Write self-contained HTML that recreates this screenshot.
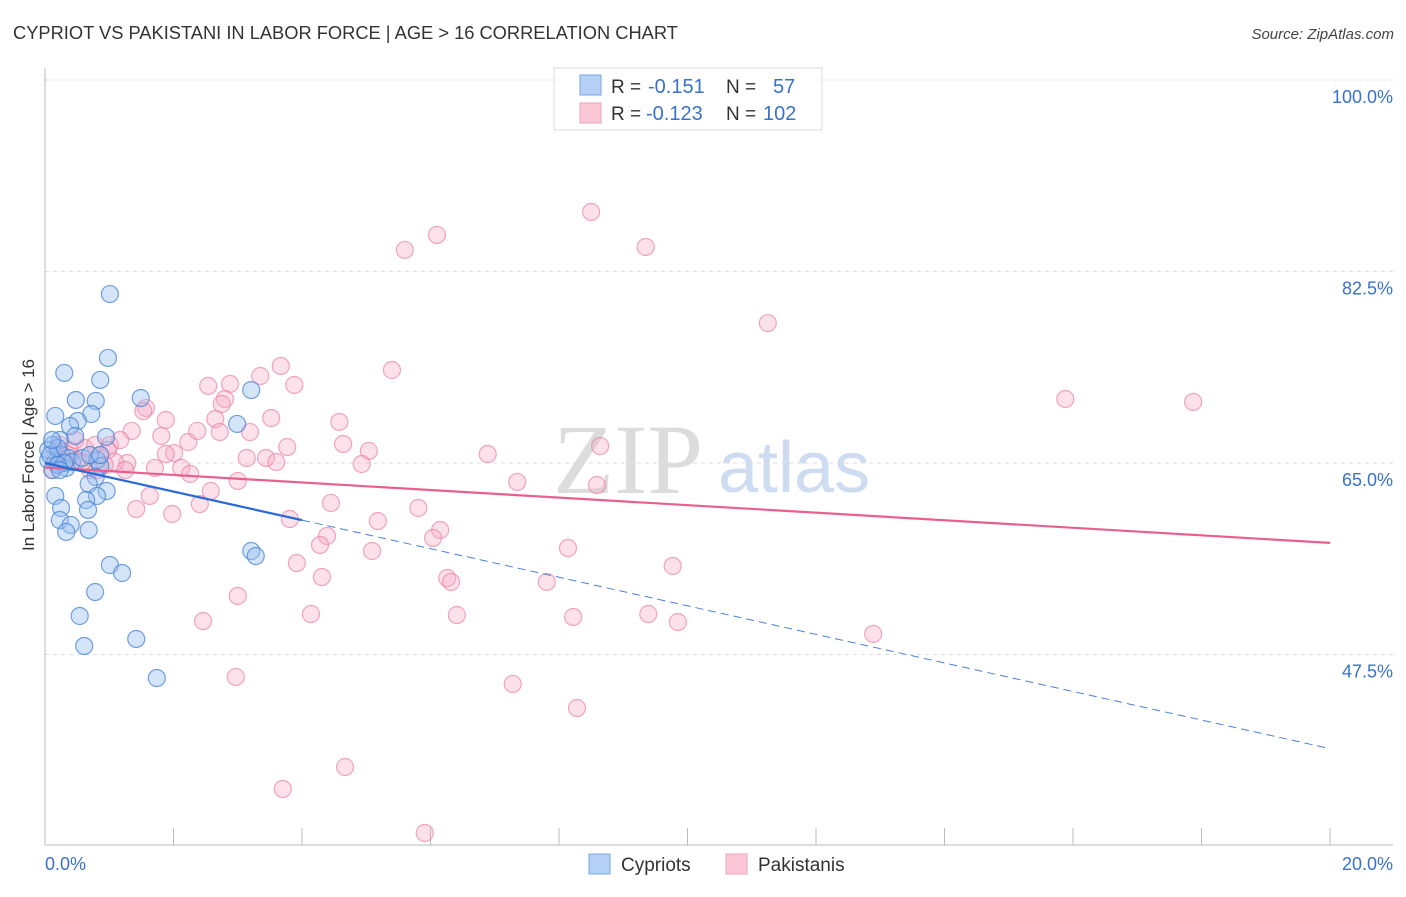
<!DOCTYPE html>
<html><head><meta charset="utf-8"><style>
body{margin:0;background:#fff;font-family:"Liberation Sans",sans-serif;}
svg text{font-family:"Liberation Sans",sans-serif;}
</style></head><body>
<svg id="chart" width="1406" height="892" viewBox="0 0 1406 892" xmlns="http://www.w3.org/2000/svg">
<text x="13" y="39" font-size="18.3" fill="#333">CYPRIOT VS PAKISTANI IN LABOR FORCE | AGE &gt; 16 CORRELATION CHART</text>
<text x="1394" y="39" font-size="15" fill="#444" font-style="italic" text-anchor="end">Source: ZipAtlas.com</text>
<g>
<text x="553" y="493" font-size="100" fill="#dcdcdc" style="font-family:'Liberation Serif',serif">ZIP</text>
<text x="718" y="492" font-size="72" fill="#cddcf0">atlas</text>
</g>
<g id="grid"></g>
<g id="axes"></g>
<g id="pts"></g>
<g id="trends"></g>
<text transform="translate(34,455) rotate(-90)" font-size="17" fill="#333" text-anchor="middle">In Labor Force | Age &gt; 16</text>
<g>
<rect x="554" y="68" width="268" height="62" fill="#fff" stroke="#ddd"/>
<rect x="580" y="75" width="21" height="20" fill="#b5d0f5" stroke="#7aa6e0"/>
<rect x="580" y="103" width="21" height="20" fill="#fcc8d8" stroke="#eea0b8"/>
<text x="611" y="93" font-size="19" fill="#333">R =</text><text x="648" y="93" font-size="20" fill="#3a72c8">-0.151</text>
<text x="726" y="93" font-size="19" fill="#333">N =</text><text x="773" y="93" font-size="20" fill="#3a72c8">57</text>
<text x="611" y="120" font-size="19" fill="#333">R =</text><text x="646" y="120" font-size="20" fill="#3a72c8">-0.123</text>
<text x="726" y="120" font-size="19" fill="#333">N =</text><text x="763" y="120" font-size="20" fill="#3a72c8">102</text>
</g>
<g>
<rect x="589" y="854" width="21" height="20" fill="#b5d0f5" stroke="#7aa6e0"/>
<text x="621" y="871" font-size="19" fill="#333">Cypriots</text>
<rect x="726" y="854" width="21" height="20" fill="#fcc8d8" stroke="#eea0b8"/>
<text x="758" y="871" font-size="19" fill="#333">Pakistanis</text>
</g>
</svg>
<script>
const yTicks=[100,82.5,65,47.5];
const yTickLabels=["100.0%","82.5%","65.0%","47.5%"];
const xTickLabels=["0.0%","20.0%"];
const cypX=[1.01,0.98,0.30,0.86,0.48,0.79,1.49,3.21,0.16,0.72,0.51,0.39,2.99,0.95,0.47,0.23,0.12,0.26,0.05,0.16,0.36,0.81,0.86,0.79,0.96,0.68,0.81,0.16,0.64,0.25,0.67,0.23,0.40,0.33,0.68,1.01,1.20,3.21,3.28,0.78,0.54,1.42,0.61,1.74,0.12,0.05,0.20,0.33,0.42,0.58,0.30,0.08,0.20,0.11,0.70,0.23,0.86];
const cypY=[80.44,74.60,73.23,72.59,70.76,70.67,70.94,71.67,69.30,69.48,68.84,68.38,68.57,67.38,67.47,67.10,66.65,65.73,65.28,65.09,65.46,65.28,64.73,63.72,62.44,63.08,61.99,61.99,61.62,60.89,60.71,59.79,59.34,58.70,58.88,55.68,54.95,56.96,56.50,53.21,51.02,48.92,48.28,45.35,64.36,66.19,66.37,64.55,65.09,65.46,65.00,65.73,64.82,67.10,65.73,64.36,65.73];
const pakX=[8.50,6.10,5.60,9.35,11.25,15.88,17.87,5.40,3.67,3.35,2.54,2.88,3.88,1.57,2.80,2.75,1.88,2.65,3.52,4.58,1.53,1.35,1.81,2.23,2.37,2.72,3.19,3.77,4.64,5.04,6.89,8.64,2.01,1.88,3.14,3.44,3.60,4.93,1.28,1.71,2.12,2.26,3.00,7.35,8.59,2.58,1.63,2.41,1.42,1.98,4.45,5.81,5.18,3.81,6.15,6.04,4.39,4.28,5.09,8.14,3.92,4.31,6.26,6.32,7.81,9.77,3.00,4.14,6.41,8.22,9.39,9.85,12.89,2.46,2.97,7.28,8.28,4.67,3.70,5.91,0.23,0.39,0.62,0.78,1.01,1.09,1.25,0.86,0.51,0.31,0.16,0.11,0.70,1.17,0.98,0.47,0.36,0.58,0.82,0.20,0.26,0.93];
const pakY=[87.94,85.84,84.47,84.74,77.79,70.85,70.58,73.50,73.87,72.95,72.04,72.22,72.13,70.03,70.85,70.39,68.93,69.02,69.11,68.75,69.75,67.93,67.47,66.92,67.93,67.83,67.83,66.46,66.74,66.10,65.82,66.55,65.91,65.82,65.46,65.46,65.09,64.91,65.00,64.55,64.55,64.00,63.36,63.27,62.99,62.44,61.99,61.25,60.80,60.34,61.35,60.89,59.70,59.88,58.88,58.15,58.33,57.51,56.96,57.23,55.86,54.58,54.49,54.13,54.13,55.59,52.85,51.20,51.11,50.93,51.20,50.47,49.38,50.56,45.45,44.81,42.61,37.22,35.21,31.19,66.65,66.19,66.37,66.65,66.65,65.09,64.36,65.73,65.28,65.09,65.46,64.36,64.36,67.10,66.19,67.10,65.73,65.09,64.36,66.19,65.28,64.82];
const cypTrend=[65.0,38.9];
const pakTrend=[64.6,57.7];
const cypSolidEnd=4.0;

const NS="http://www.w3.org/2000/svg";
const sx=v=>45+v*64.25;
const sy=v=>80+(100-v)*10.943;
function mk(tag,attrs,parent){const e=document.createElementNS(NS,tag);for(const k in attrs)e.setAttribute(k,attrs[k]);parent.appendChild(e);return e;}
const grid=document.getElementById('grid'),axes=document.getElementById('axes'),pts=document.getElementById('pts'),tr=document.getElementById('trends');
yTicks.forEach((t,i)=>{
  const l=mk('line',{x1:45,x2:1393,y1:sy(t),y2:sy(t),stroke:'#ddd','stroke-dasharray':'4,4'},grid);
  
  
  const tx=mk('text',{x:1393,y:sy(t)+23,'font-size':18,fill:'#3a72c8','text-anchor':'end'},axes);
  tx.textContent=yTickLabels[i];
  
  
});
const ya=mk('line',{x1:45,x2:45,y1:68,y2:845,stroke:'#bbb'},axes);


const xa=mk('line',{x1:45,x2:1393,y1:845,y2:845,stroke:'#bbb'},axes);


for(let i=0;i<=20;i+=2){
  const t=mk('line',{x1:sx(i),x2:sx(i),y1:828,y2:845,stroke:'#bbb'},axes);
  
  
}
[[0,'start'],[20,'end']].forEach((d,i)=>{
  const tx=mk('text',{x:d[0]===0?sx(0):1393,y:870,'font-size':18,fill:'#3a72c8','text-anchor':d[1]},axes);
  tx.textContent=xTickLabels[i];
  
  
});
pakX.forEach((x,i)=>{
  const c=mk('circle',{cx:sx(x),cy:sy(pakY[i]),r:8.5,fill:'rgba(247,170,198,0.35)',stroke:'rgba(235,130,165,0.7)','stroke-width':1.2},pts);
  
  
});
cypX.forEach((x,i)=>{
  const c=mk('circle',{cx:sx(x),cy:sy(cypY[i]),r:8.5,fill:'rgba(150,190,240,0.4)',stroke:'rgba(70,130,215,0.75)','stroke-width':1.2},pts);
  
  
});
const cy=x=>cypTrend[0]+(cypTrend[1]-cypTrend[0])*x/20;
const pl=mk('line',{x1:sx(0),y1:sy(pakTrend[0]),x2:sx(20),y2:sy(pakTrend[1]),stroke:'#e8608e','stroke-width':2.2},tr);


const bd=mk('line',{x1:sx(cypSolidEnd),y1:sy(cy(cypSolidEnd)),x2:sx(20),y2:sy(cy(20)),stroke:'#4a80dc','stroke-width':1,'stroke-dasharray':'8,5'},tr);


const bs=mk('line',{x1:sx(0),y1:sy(cy(0)),x2:sx(cypSolidEnd),y2:sy(cy(cypSolidEnd)),stroke:'#2a6ad8','stroke-width':2.2},tr);


</script>
</body></html>
